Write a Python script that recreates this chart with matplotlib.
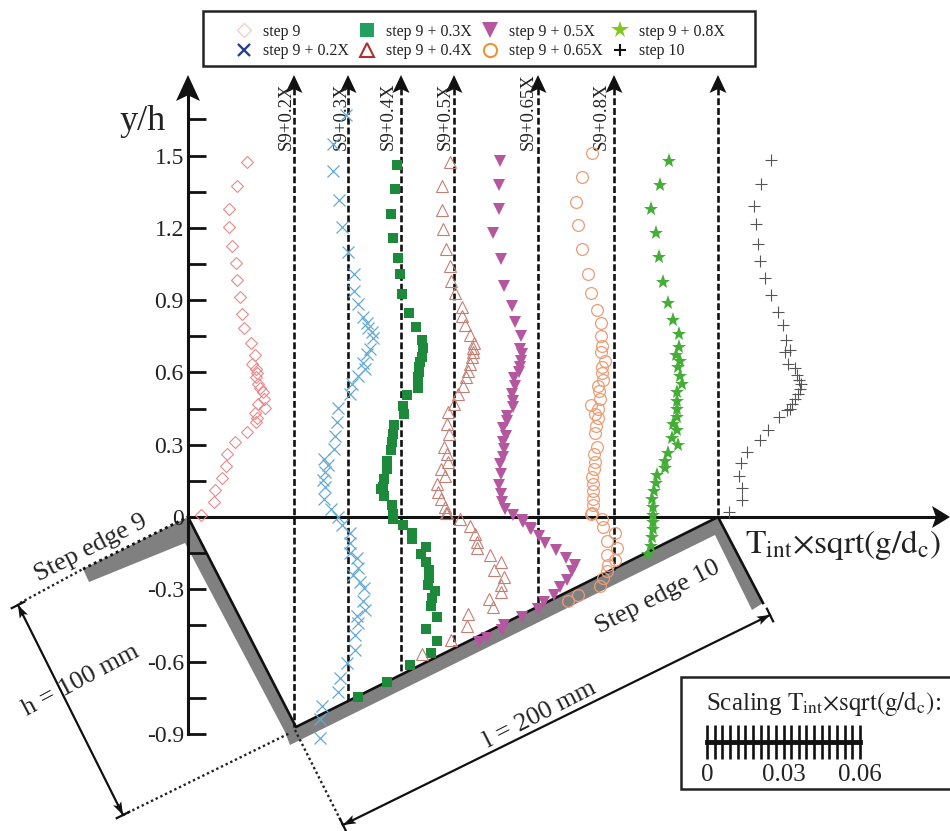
import numpy as np
import matplotlib
matplotlib.use('Agg')
import matplotlib.pyplot as plt
from matplotlib.lines import Line2D
from matplotlib.patches import Polygon, Rectangle

plt.rcParams['font.family'] = ['Liberation Serif', 'DejaVu Serif']
plt.rcParams['mathtext.fontset'] = 'stix'

# Profiles: T_int*sqrt(g/d_c) x 1000, measured from each station line, against y/h
t_s9 = [23.0, 19.1, 15.9, 16.2, 17.1, 18.7, 19.3, 20.4, 21.2, 22.0, 24.6, 26.3, 25.1, 26.7, 26.9, 26.7, 27.6,
        28.2, 29.3, 29.8, 27.6, 30.2, 26.4, 26.9, 26.7, 23.3, 18.6, 15.2, 14.9, 13.2, 10.6, 10.2, 5.1]
y_s9 = [1.473, 1.374, 1.28, 1.204, 1.123, 1.052, 0.982, 0.913, 0.844, 0.785, 0.724, 0.673, 0.634, 0.614, 0.597, 0.579, 0.552,
        0.535, 0.517, 0.49, 0.469, 0.451, 0.43, 0.411, 0.393, 0.352, 0.31, 0.262, 0.211, 0.16, 0.11, 0.061, 0.007]

t_02 = [20.4, 15.3, 15.2, 17.7, 18.7, 21.0, 23.5, 23.5, 25.2, 27.2, 28.5, 29.2, 30.5, 30.9, 29.8, 28.5, 27.2, 27.8, 25.2, 22.6, 21.9,
        17.4, 16.7, 16.1, 15.7, 11.9, 13.5, 12.2, 11.5, 12.2, 11.8, 14.4, 17.4,
        18.7, 22.0, 22.0, 22.0, 24.8, 25.2, 23.3, 25.9, 27.4, 27.2, 27.8, 24.6, 25.2, 23.9, 23.9, 20.6, 18.0, 17.4, 10.9, 10.2, 10.2]
y_02 = [1.67, 1.547, 1.434, 1.317, 1.204, 1.101, 1.007, 0.938, 0.883, 0.828, 0.807, 0.786, 0.766, 0.742, 0.697, 0.676, 0.641, 0.614, 0.586, 0.552, 0.51,
        0.451, 0.393, 0.338, 0.283, 0.241, 0.214, 0.186, 0.152, 0.124, 0.076, 0.034, 0.0,
        -0.033, -0.068, -0.109, -0.15, -0.171, -0.212, -0.24, -0.268, -0.295, -0.35, -0.385, -0.412, -0.44, -0.488, -0.55, -0.606, -0.668, -0.727, -0.785, -0.84, -0.916]

t_03 = [19.1, 18.5, 16.9, 17.6, 19.8, 20.4, 21.1, 24.0, 26.6, 29.2, 29.6, 28.9, 28.3, 28.0, 27.8, 27.6, 27.5, 27.4, 23.1, 21.7, 22.0,
        18.1, 17.8, 17.2, 16.9, 15.2, 15.2, 14.3, 13.6, 13.0, 14.2, 17.2, 17.6, 17.8,
        21.4, 25.0, 25.0, 30.6, 28.5, 30.6, 31.8, 31.8, 31.5, 34.1, 32.8, 32.4, 34.8, 30.5, 35.0, 32.4, 24.3, 15.4, 4.1]
y_03 = [1.459, 1.359, 1.258, 1.159, 1.076, 1.007, 0.927, 0.848, 0.789, 0.735, 0.703, 0.662, 0.642, 0.621, 0.6, 0.579, 0.559, 0.535, 0.508, 0.462, 0.428,
        0.383, 0.345, 0.31, 0.276, 0.234, 0.2, 0.159, 0.124, 0.117, 0.086, 0.048, 0.014, -0.007,
        -0.033, -0.065, -0.092, -0.123, -0.153, -0.185, -0.219, -0.254, -0.281, -0.305, -0.337, -0.368, -0.417, -0.465, -0.513, -0.564, -0.615, -0.686, -0.746]

t_04 = [19.2, 16.2, 16.2, 16.4, 17.5, 19.2, 19.6, 21.2, 23.8, 23.8, 25.1, 27.1, 28.7, 28.4, 28.1, 27.7, 27.1, 26.4, 25.5, 24.5, 22.5,
        20.6, 18.6, 18.2, 19.0, 16.9, 18.0, 18.6, 15.6, 17.3, 14.3, 14.7, 15.6, 17.3, 18.0,
        17.7, 23.1, 27.1, 29.0, 29.9, 29.9, 34.9, 39.2, 36.5, 40.5, 39.2, 39.2, 34.5, 36.0, 26.2, 25.8, 19.6, 8.4]
y_04 = [1.473, 1.372, 1.273, 1.193, 1.113, 1.041, 0.979, 0.928, 0.873, 0.834, 0.796, 0.754, 0.724, 0.703, 0.683, 0.662, 0.634, 0.607, 0.579, 0.545, 0.51,
        0.469, 0.434, 0.386, 0.345, 0.29, 0.262, 0.228, 0.2, 0.172, 0.138, 0.103, 0.076, 0.041, 0.017,
        0.015, -0.01, -0.037, -0.07, -0.102, -0.13, -0.157, -0.188, -0.219, -0.251, -0.281, -0.312, -0.341, -0.374, -0.403, -0.451, -0.509, -0.567]

t_05 = [18.0, 17.8, 17.8, 15.2, 18.4, 19.6, 22.7, 23.8, 26.3, 25.9, 26.5, 26.1, 25.9, 25.6, 23.7, 23.9, 22.6, 23.0, 23.3, 20.6, 20.9,
        19.3, 20.4, 19.1, 19.6, 19.1, 18.0, 18.3, 17.8, 18.3, 18.7, 20.0, 23.0, 26.9, 30.1,
        26.6, 29.8, 33.5, 35.7, 39.9, 44.0, 47.5, 46.2, 44.2, 41.6, 39.3, 35.3, 33.1, 26.6, 19.8, 19.0, 12.9, 10.0]
y_05 = [1.479, 1.379, 1.277, 1.179, 1.069, 0.959, 0.877, 0.81, 0.749, 0.697, 0.676, 0.648, 0.621, 0.6, 0.577, 0.545, 0.51, 0.483, 0.455, 0.421, 0.397,
        0.368, 0.338, 0.31, 0.283, 0.248, 0.218, 0.179, 0.131, 0.097, 0.062, 0.034, 0.007, -0.021, -0.048,
        -0.012, -0.047, -0.079, -0.109, -0.139, -0.171, -0.199, -0.226, -0.261, -0.291, -0.323, -0.354, -0.382, -0.415, -0.447, -0.47, -0.502, -0.52]

t_065 = [21.0, 17.1, 14.9, 15.6, 17.1, 19.7, 20.6, 23.0, 24.6, 24.6, 25.0, 24.6, 26.3, 25.0, 25.0, 25.4, 23.7, 24.0, 24.3, 20.6, 23.7,
         22.4, 23.7, 22.7, 22.4, 23.0, 22.0, 22.4, 22.0, 21.0, 21.7, 21.4, 21.7, 21.4, 20.6,
         21.1, 25.0, 25.6, 30.2, 27.2, 30.9, 27.2, 30.2, 27.6, 26.9, 25.6, 24.3, 15.8, 11.9]
y_065 = [1.51, 1.41, 1.308, 1.211, 1.11, 1.01, 0.928, 0.859, 0.803, 0.749, 0.71, 0.683, 0.648, 0.621, 0.596, 0.568, 0.545, 0.521, 0.49, 0.466, 0.448,
         0.428, 0.411, 0.379, 0.348, 0.29, 0.262, 0.23, 0.2, 0.166, 0.138, 0.108, 0.076, 0.048, 0.014,
         0.018, -0.01, -0.04, -0.068, -0.098, -0.13, -0.157, -0.178, -0.199, -0.226, -0.254, -0.288, -0.323, -0.35]

t_08 = [21.6, 18.0, 14.4, 16.5, 17.7, 19.4, 21.3, 23.3, 25.4, 25.6, 24.3, 25.9, 25.2, 25.9, 26.5, 24.6, 24.6, 24.6, 24.9, 23.0, 24.6,
        22.6, 25.2, 21.3, 20.0, 20.0, 16.7, 16.5, 15.7, 15.0, 15.2, 15.2, 15.3, 15.3, 14.9, 14.5, 13.3]
y_08 = [1.479, 1.379, 1.277, 1.179, 1.079, 0.977, 0.887, 0.818, 0.759, 0.706, 0.673, 0.648, 0.621, 0.586, 0.552, 0.517, 0.483, 0.448, 0.417, 0.386, 0.359,
        0.328, 0.297, 0.265, 0.234, 0.204, 0.175, 0.141, 0.108, 0.076, 0.041, 0.007, -0.02, -0.05, -0.085, -0.12, -0.155]

t_s10 = [20.7, 16.9, 14.0, 14.9, 15.5, 16.4, 18.5, 20.6, 23.4, 25.4, 26.6, 26.3, 27.6, 28.2, 30.2, 31.0, 31.8, 32.5, 32.1, 31.4, 30.2,
         29.0, 28.2, 27.0, 24.1, 19.8, 16.5, 11.3, 8.9, 8.4, 9.3, 9.3, 4.2]
y_s10 = [1.483, 1.382, 1.292, 1.214, 1.131, 1.062, 0.993, 0.921, 0.851, 0.796, 0.734, 0.683, 0.634, 0.695, 0.62, 0.59, 0.57, 0.55, 0.53, 0.51, 0.49,
         0.47, 0.45, 0.444, 0.417, 0.361, 0.321, 0.269, 0.223, 0.17, 0.12, 0.069, 0.021]

labels = ['step 9', 'step 9 + 0.2X', 'step 9 + 0.3X', 'step 9 + 0.4X',
          'step 9 + 0.5X', 'step 9 + 0.65X', 'step 9 + 0.8X', 'step 10']
station_labels = ['S9+0.2X', 'S9+0.3X', 'S9+0.4X', 'S9+0.5X', 'S9+0.65X', 'S9+0.8X']
yticks_major = [-0.9, -0.6, -0.3, 0, 0.3, 0.6, 0.9, 1.2, 1.5]
ytick_labels = ['-0.9', '-0.6', '-0.3', '0', '0.3', '0.6', '0.9', '1.2', '1.5']
yticks_minor = [-0.75, -0.45, -0.15, 0.15, 0.45, 0.75, 1.05, 1.35, 1.65]

# image layout
W, H = 950, 831
X0, Y0 = 188, 517
PX_PER_T = 2.55    # pixels per unit of T x 1000
PX_PER_Y = 241
station_px = [188, 294, 348, 401, 454, 538, 614, 718]
bed_py = [517, 727, 700, 673, 645, 607, 570, 517]
INK = '#222222'

fig = plt.figure(figsize=(W / 100, H / 100), dpi=100)

# pixel axes for the flume sketch, data axes on top for the profiles
sk = fig.add_axes([0, 0, 1, 1], zorder=1)
sk.set_xlim(0, W)
sk.set_ylim(H, 0)
sk.axis('off')

ax = fig.add_axes([0, 0, 1, 1], zorder=2)
ax.patch.set_alpha(0)
ax.set_xlim(-X0 / PX_PER_T, (W - X0) / PX_PER_T)
ax.set_ylim((Y0 - H) / PX_PER_Y, Y0 / PX_PER_Y)


def head(x, y, dx, dy, width, length):
    # concave arrow head, tip at x,y pointing along dx,dy
    nx, ny = -dy, dx
    pts = [(x, y),
           (x - dx * length + nx * width / 2, y - dy * length + ny * width / 2),
           (x - dx * length * 0.78, y - dy * length * 0.78),
           (x - dx * length - nx * width / 2, y - dy * length - ny * width / 2)]
    sk.add_patch(Polygon(pts, closed=True, fc='#111111', ec='none', zorder=6))


def dim_arrow(x1, y1, x2, y2):
    # dimension line with a head and an end bar at both ends
    d = np.hypot(x2 - x1, y2 - y1)
    dx, dy = (x2 - x1) / d, (y2 - y1) / d
    sk.plot([x1, x2], [y1, y2], color='#111111', lw=1.6)
    head(x2, y2, dx, dy, 9, 13)
    head(x1, y1, -dx, -dy, 9, 13)
    for x, y in [(x1, y1), (x2, y2)]:
        sk.plot([x + dy * 7, x - dy * 7], [y - dx * 7, y + dx * 7], color='#111111', lw=1.6)


# gray bed
bed = [(83, 569), (188, 517), (296, 727), (718, 517), (763, 603), (752, 610), (715, 535),
       (290, 745), (285, 732), (185, 543), (89, 582)]
sk.add_patch(Polygon(bed, closed=True, fc='#808080', ec='none', zorder=1))
sk.plot([188, 296, 718, 763], [517, 727, 517, 603], color='#111111', lw=1.9, zorder=2)

# dotted construction lines
dots = (0, (1, 1.2))
sk.plot([83, 188], [569, 517], color='#111111', lw=2, ls=dots, zorder=2)
sk.plot([20, 83], [603, 569], color=INK, lw=1.7, ls=dots)
sk.plot([123, 290], [815, 733], color=INK, lw=1.7, ls=dots)
sk.plot([295, 343], [730, 825], color=INK, lw=1.7, ls=dots)

dim_arrow(18, 605, 123, 815)
dim_arrow(343, 825, 770, 615)

# stations
for px, py in zip(station_px[1:], bed_py[1:]):
    sk.plot([px, px], [88, py], color='#111111', lw=1.9, ls=(0, (2.6, 1.1)), zorder=2)
    head(px, 75, 0, -1, 17, 18)
for px, s in zip([286, 341, 388, 445, 528, 601], station_labels):
    sk.text(px, 150, s, rotation=90, ha='center', va='bottom', fontsize=13.5, color=INK, zorder=7)

# main axes
for side in ['top', 'right']:
    ax.spines[side].set_visible(False)
ax.spines['left'].set_position(('data', 0))
ax.spines['bottom'].set_position(('data', 0))
ax.spines['left'].set_bounds(-0.9, (Y0 - 90) / PX_PER_Y)
ax.spines['bottom'].set_bounds(0, (935 - X0) / PX_PER_T)
ax.spines['left'].set_linewidth(2.2)
ax.spines['bottom'].set_linewidth(2.2)
ax.spines['left'].set_color('#111111')
ax.spines['bottom'].set_color('#111111')
ax.set_xticks([])
ax.set_yticks(yticks_major)
ax.set_yticklabels(ytick_labels, fontsize=17, color=INK)
ax.set_yticks(yticks_minor, minor=True)
ax.tick_params(axis='y', which='both', direction='in', length=13, width=2, color='#111111', pad=3)
head(188, 75, 0, -1, 24, 26)
head(950, 517, 1, 0, 22, 18)

sk.text(143, 122, 'y/h', fontsize=26, ha='center', va='center', color=INK)
sk.text(745, 545, r'$\mathrm{T_{int}{\times}sqrt(g/d_c)}$', fontsize=24, ha='left', va='center', color=INK)

sk.text(91, 548, 'Step edge 9', rotation=27, fontsize=19, ha='center', va='center', color=INK)
sk.text(658, 597, 'Step edge 10', rotation=27, fontsize=19, ha='center', va='center', color=INK, zorder=7)
sk.text(81, 681, 'h = 100 mm', rotation=28, fontsize=19, ha='center', va='center', color=INK)
sk.text(540, 715, 'l = 200 mm', rotation=27, fontsize=19, ha='center', va='center', color=INK)

# profiles
offsets = [(px - X0) / PX_PER_T for px in station_px]
ax.plot(np.array(t_s9) + offsets[0], y_s9, ls='none', marker='D', ms=6.5, mfc='none', mec='#e58a8c', mew=0.8, zorder=3)
ax.plot(np.array(t_02) + offsets[1], y_02, ls='none', marker='x', ms=8.5, color='#62aad6', mew=0.9, zorder=3)
ax.plot(np.array(t_03) + offsets[2], y_03, ls='none', marker='s', ms=7.5, color='#1c8a3a', mew=0, zorder=3)
ax.plot(np.array(t_04) + offsets[3], y_04, ls='none', marker='^', ms=8.5, mfc='none', mec='#c47f74', mew=0.8, zorder=3)
ax.plot(np.array(t_05) + offsets[4], y_05, ls='none', marker='v', ms=9, color='#b5579f', mew=0, zorder=3)
ax.plot(np.array(t_065) + offsets[5], y_065, ls='none', marker='o', ms=8.5, mfc='none', mec='#ee9c74', mew=0.9, zorder=3)
ax.plot(np.array(t_08) + offsets[6], y_08, ls='none', marker='*', ms=11, color='#44ae36', mew=0, zorder=3)
ax.plot(np.array(t_s10) + offsets[7], y_s10, ls='none', marker='+', ms=8.5, color='#555555', mew=0.8, zorder=3)

# legend
sk.add_patch(Rectangle((203, 11), 552, 55, fc='white', ec=INK, lw=1.8, zorder=5))
handles = [
    Line2D([], [], ls='none', marker='D', ms=7.5, mfc='white', mec='#f4cfcf', mew=1),
    Line2D([], [], ls='none', marker='x', ms=9, color='#2a3f8f', mew=1.7),
    Line2D([], [], ls='none', marker='s', ms=10, color='#22a060', mew=0),
    Line2D([], [], ls='none', marker='^', ms=10, mfc='white', mec='#b03030', mew=1.5),
    Line2D([], [], ls='none', marker='v', ms=11, color='#b5579f', mew=0),
    Line2D([], [], ls='none', marker='o', ms=9.5, mfc='white', mec='#e8963c', mew=1.5),
    Line2D([], [], ls='none', marker='*', ms=13, color='#7ec820', mew=0),
    Line2D([], [], ls='none', marker='+', ms=9, color='#111111', mew=1.5),
]
leg = sk.legend(handles, labels, ncol=4, loc='upper left', bbox_to_anchor=(236, 24), bbox_transform=sk.transData,
                frameon=False, fontsize=11.5, handlelength=1, handletextpad=0.69, columnspacing=0.62,
                labelspacing=0.2, borderpad=0, borderaxespad=0)
leg.set_zorder(6)
for t in leg.get_texts():
    t.set_color(INK)

# scaling box, runs off the right edge
sk.add_patch(Rectangle((681, 677), 275, 112, fc='white', ec=INK, lw=1.8, zorder=3))
sk.text(706, 704, r'Scaling $\mathrm{T_{int}{\times}sqrt(g/d_c)}$:', fontsize=18, ha='left', va='center', color=INK, zorder=4)
bar_t = np.arange(0, 61, 3)
bar_px = 707 + bar_t * PX_PER_T
sk.vlines(bar_px, 725, 759, color='#111111', lw=1.9, zorder=4)
sk.plot([bar_px[0], bar_px[-1]], [742, 742], color='#111111', lw=3.5, zorder=4)
for t, s in zip([0, 30, 60], ['0', '0.03', '0.06']):
    sk.text(707 + t * PX_PER_T, 775, s, fontsize=18, ha='center', va='center', color=INK, zorder=4)

plt.savefig('out.png', dpi=100)
